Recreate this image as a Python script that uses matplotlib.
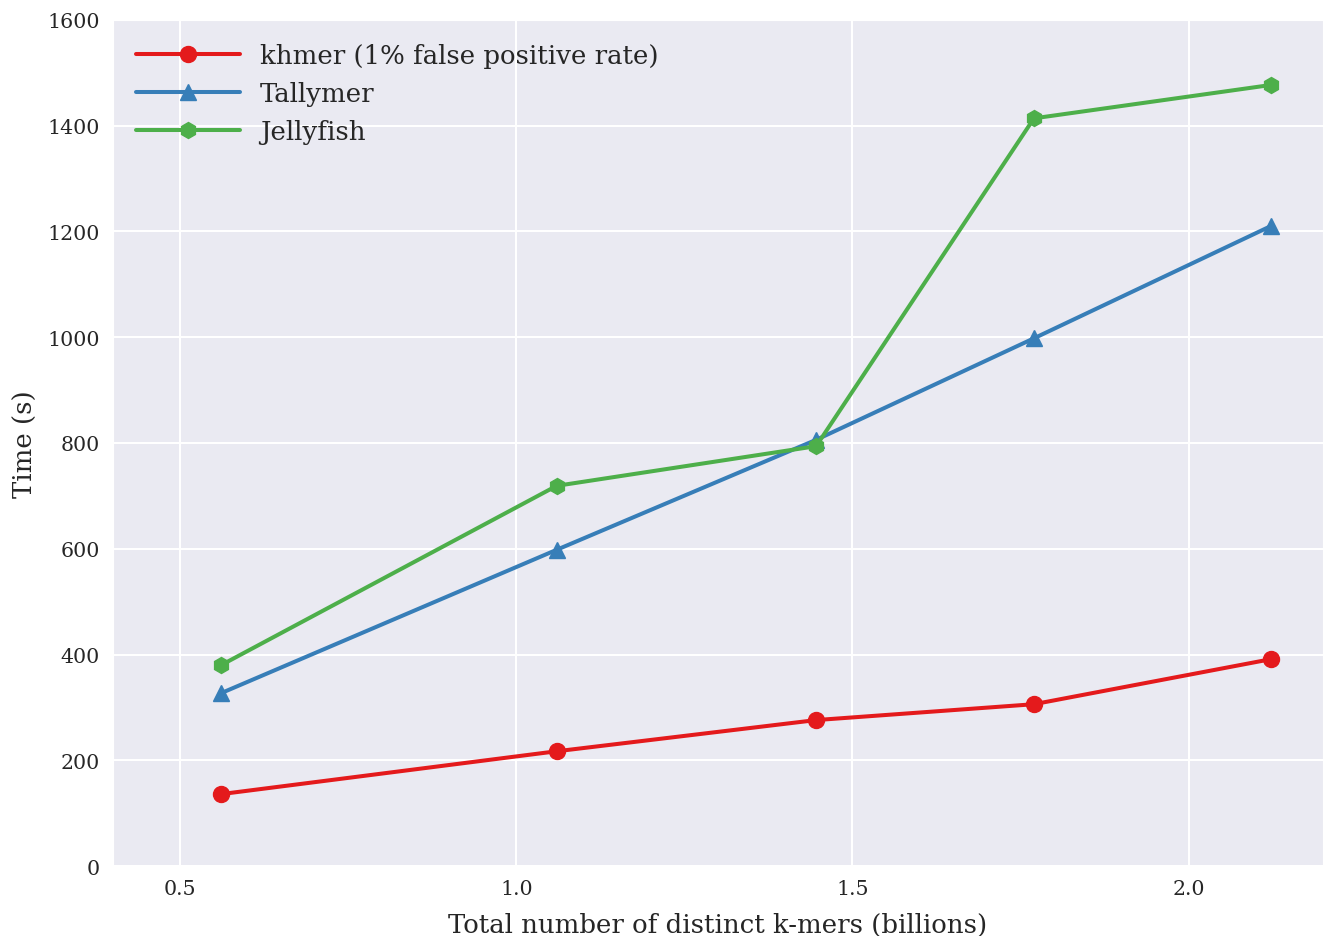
import matplotlib.pyplot as plt
import seaborn as sns

sns.set_style("darkgrid")
plt.rcParams["font.family"] = ["DejaVu Serif"]
plt.rcParams["grid.linewidth"] = 1.5

# Total number of distinct k-mers (billions)
kmers = [0.561, 1.060, 1.446, 1.770, 2.122]

khmer_time = [136, 217, 276, 306, 391]
tallymer_time = [327, 598, 806, 998, 1210]
jellyfish_time = [380, 719, 794, 1414, 1477]

fig, ax = plt.subplots(figsize=(13.23, 9.37), dpi=100)
fig.subplots_adjust(left=0.0854, right=1.0, top=0.9776, bottom=0.0747)

ax.plot(kmers, khmer_time, color="#e41a1c", marker="o", markersize=11.5, linewidth=2.9,
        label="khmer (1% false positive rate)")
ax.plot(kmers, tallymer_time, color="#377eb8", marker="^", markersize=11.5, linewidth=2.9,
        label="Tallymer")
ax.plot(kmers, jellyfish_time, color="#4daf4a", marker="h", markersize=11.5, linewidth=2.9,
        label="Jellyfish")

ax.set_xlim(0.4, 2.2)
ax.set_ylim(0, 1600)
ax.set_xticks([0.5, 1.0, 1.5, 2.0])
ax.set_yticks(range(0, 1601, 200))
ax.tick_params(labelsize=14.8, length=1.5, width=1, color="#555555", pad=8)
ax.set_xlabel("Total number of distinct k-mers (billions)", fontsize=18.7, labelpad=10)
ax.set_ylabel("Time (s)", fontsize=18.7, labelpad=7)
ax.legend(loc="upper left", fontsize=18.7, frameon=False, handlelength=4, handletextpad=0.75)

fig.savefig("out.png")
